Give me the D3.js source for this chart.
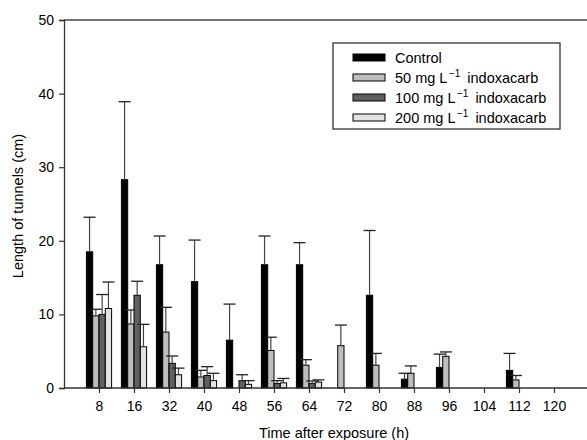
<!DOCTYPE html>
<html>
<head>
<meta charset="utf-8">
<script src="https://cdn.jsdelivr.net/npm/d3@7"></script>
<style>
  body { margin: 0; background: #fff; }
  text { font-family: "Liberation Sans", Arial, sans-serif; fill: #000; }
</style>
</head>
<body>
<div id="chart"></div>
<script>
// hours after exposure
var hours = [8, 16, 32, 40, 48, 56, 64, 72, 80, 88, 96, 104, 112, 120];
var seriesNames = ["Control", "50", "100", "200"];

// mean tunnel length (cm) and top of error bar (mean + se)
var control    = [18.5, 28.3, 16.75, 14.45, 6.5, 16.75, 16.75, 0, 12.6, 1.2, 2.8, 0, 2.4, 0];
var controlErr = [23.2, 38.9, 20.65, 20.1, 11.4, 20.65, 19.75, 0, 21.4, 2.0, 4.6, 0, 4.7, 0];
var mg50       = [9.8, 8.7, 7.6, 1.5, 0, 5.1, 3.1, 5.75, 3.1, 2.0, 4.3, 0, 1.1, 0];
var mg50Err    = [10.7, 10.6, 10.96, 2.4, 0, 6.9, 3.85, 8.55, 4.7, 3.0, 4.9, 0, 1.7, 0];
var mg100      = [10.0, 12.6, 3.35, 1.7, 1.0, 0.6, 0.6, 0, 0, 0, 0, 0, 0, 0];
var mg100Err   = [12.7, 14.5, 4.35, 2.9, 1.8, 1.0, 0.95, 0, 0, 0, 0, 0, 0, 0];
var mg200      = [10.8, 5.6, 1.8, 1.0, 0.5, 0.7, 0.8, 0, 0, 0, 0, 0, 0, 0];
var mg200Err   = [14.4, 8.65, 2.7, 2.0, 1.0, 1.3, 1.1, 0, 0, 0, 0, 0, 0, 0];
var yTicks = [0, 10, 20, 30, 40, 50];

var values = [control, mg50, mg100, mg200];
var errTops = [controlErr, mg50Err, mg100Err, mg200Err];
var fills = ["#000000", "#bdbdbd", "#616161", "#e2e2e2"];

var width = 587, height = 440;
var plotLeft = 64, plotTop = 20, plotBottom = 388;

var svg = d3.select("#chart").append("svg")
    .attr("width", width)
    .attr("height", height);

var x = d3.scaleLinear().domain([0, 15]).range([plotLeft, plotLeft + 525]);
var y = d3.scaleLinear().domain([0, 50]).range([plotBottom, plotTop]);
var barW = 6.3;

// top border line
svg.append("line")
    .attr("x1", plotLeft).attr("x2", width)
    .attr("y1", plotTop).attr("y2", plotTop)
    .attr("stroke", "#444").attr("stroke-width", 1.3);

// bars
seriesNames.forEach(function(name, s) {
    var g = svg.append("g");
    hours.forEach(function(h, i) {
        var v = values[s][i];
        if (v <= 0) return;
        var bx = x(i + 1) + (s - 2) * barW;
        g.append("rect")
            .attr("x", bx)
            .attr("y", y(v))
            .attr("width", barW)
            .attr("height", y(0) - y(v))
            .attr("fill", fills[s])
            .attr("stroke", "#000")
            .attr("stroke-width", 1);
        var e = errTops[s][i];
        if (e > v) {
            var cx = bx + barW / 2;
            g.append("line")
                .attr("x1", cx).attr("x2", cx)
                .attr("y1", y(v)).attr("y2", y(e))
                .attr("stroke", "#444").attr("stroke-width", 1.2);
            g.append("line")
                .attr("x1", cx - 6).attr("x2", cx + 6)
                .attr("y1", y(e)).attr("y2", y(e))
                .attr("stroke", "#222").attr("stroke-width", 1.3);
        }
    });
});

// axes
var xAxis = svg.append("g")
    .attr("transform", "translate(0," + plotBottom + ")")
    .call(d3.axisBottom(x)
        .tickValues(d3.range(1, 15))
        .tickFormat(function(d) { return hours[d - 1]; })
        .tickSize(5)
        .tickPadding(8));
xAxis.select(".domain").attr("d", "M" + plotLeft + ",0H" + width);

var yAxis = svg.append("g")
    .attr("transform", "translate(" + plotLeft + ",0)")
    .call(d3.axisLeft(y).tickValues(yTicks).tickSize(5).tickPadding(5));

svg.selectAll(".domain").attr("stroke", "#333").attr("stroke-width", 1.3);
svg.selectAll(".tick line").attr("stroke", "#333").attr("stroke-width", 1.2);
svg.selectAll(".tick text")
    .style("font-family", "'Liberation Sans', Arial, sans-serif")
    .style("font-size", "14px")
    .attr("fill", "#000");

// axis titles
svg.append("text")
    .attr("x", 334)
    .attr("y", 438)
    .attr("text-anchor", "middle")
    .style("font-size", "14.5px")
    .text("Time after exposure (h)");

svg.append("text")
    .attr("transform", "translate(23,206) rotate(-90)")
    .attr("text-anchor", "middle")
    .style("font-size", "14.5px")
    .text("Length of tunnels (cm)");

// legend
var legend = svg.append("g").attr("transform", "translate(333,43)");
legend.append("rect")
    .attr("width", 227).attr("height", 86)
    .attr("fill", "#fff")
    .attr("stroke", "#333").attr("stroke-width", 1.3);

seriesNames.forEach(function(name, s) {
    var row = legend.append("g").attr("transform", "translate(20," + (11 + s * 20) + ")");
    row.append("rect")
        .attr("width", 32).attr("height", 7)
        .attr("fill", fills[s])
        .attr("stroke", "#000").attr("stroke-width", 1);
    var t = row.append("text")
        .attr("x", 42).attr("y", 8.5)
        .style("font-size", "14.5px");
    if (s === 0) {
        t.text(name);
    } else {
        t.append("tspan").text(name + " mg L");
        t.append("tspan").attr("dy", -6).attr("dx", 1.5).style("font-size", "10px").text("\u22121");
        t.append("tspan").attr("dy", 6).attr("dx", 7).text("indoxacarb");
    }
});
</script>
</body>
</html>
